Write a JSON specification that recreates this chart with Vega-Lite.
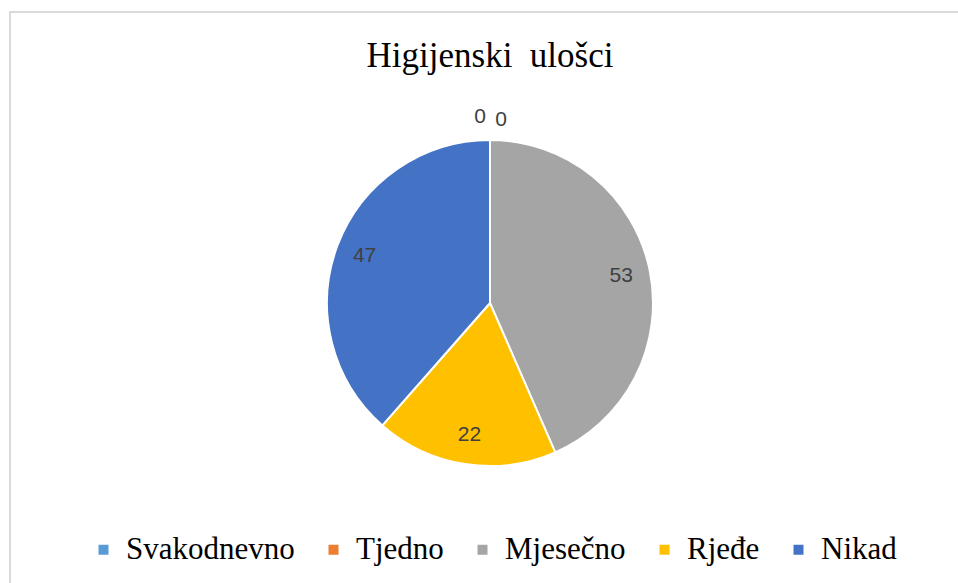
{
  "$schema": "https://vega.github.io/schema/vega-lite/v6.json",
  "width": 960,
  "height": 582,
  "autosize": "none",
  "padding": {"left": 10, "top": 12, "right": -12, "bottom": -11},
  "background": "white",
  "view": {"stroke": "#d9d9d9", "strokeWidth": 2, "fill": "white"},
  "title": {
    "text": "Higijenski\u00a0 ulošci",
    "font": "Liberation Serif",
    "fontSize": 35,
    "fontWeight": "normal",
    "color": "#000000",
    "anchor": "middle",
    "offset": -62
  },
  "data": {
    "values": [
      {"category": "Svakodnevno", "value": 0, "order": 1},
      {"category": "Tjedno", "value": 0, "order": 2},
      {"category": "Mjesečno", "value": 53, "order": 3},
      {"category": "Rjeđe", "value": 22, "order": 4},
      {"category": "Nikad", "value": 47, "order": 5}
    ]
  },
  "encoding": {
    "theta": {"field": "value", "type": "quantitative", "stack": true},
    "order": {"field": "order", "type": "quantitative"},
    "color": {
      "field": "category",
      "type": "nominal",
      "scale": {
        "domain": ["Svakodnevno", "Tjedno", "Mjesečno", "Rjeđe", "Nikad"],
        "range": ["#5B9BD5", "#ED7D31", "#A5A5A5", "#FFC000", "#4472C4"]
      },
      "sort": null,
      "legend": {
        "title": null,
        "orient": "none",
        "direction": "horizontal",
        "legendX": 78,
        "legendY": 522,
        "symbolType": "square",
        "symbolSize": 100,
        "symbolStrokeWidth": 0,
        "labelFont": "Liberation Serif",
        "labelFontSize": 31,
        "labelColor": "#000000",
        "labelOffset": 7,
        "columnPadding": 23,
        "padding": 0,
        "labelLimit": 400
      }
    }
  },
  "layer": [
    {
      "mark": {"type": "arc", "outerRadius": 163, "stroke": "white", "strokeWidth": 2}
    },
    {
      "transform": [{"filter": "datum.value > 0"}],
      "mark": {"type": "text", "radius": 134, "font": "Liberation Sans", "fontSize": 21, "fill": "#404040", "align": "center", "baseline": "middle"},
      "encoding": {
        "text": {"field": "value", "type": "quantitative"},
        "color": {"value": "#404040"}
      }
    },
    {
      "transform": [{"filter": "datum.category === 'Svakodnevno'"}],
      "mark": {"type": "text", "radius": 186, "dx": -10, "font": "Liberation Sans", "fontSize": 21, "fill": "#404040", "align": "center", "baseline": "middle"},
      "encoding": {
        "text": {"field": "value", "type": "quantitative"},
        "color": {"value": "#404040"}
      }
    },
    {
      "transform": [{"filter": "datum.category === 'Tjedno'"}],
      "mark": {"type": "text", "radius": 183, "dx": 11, "font": "Liberation Sans", "fontSize": 21, "fill": "#404040", "align": "center", "baseline": "middle"},
      "encoding": {
        "text": {"field": "value", "type": "quantitative"},
        "color": {"value": "#404040"}
      }
    }
  ]
}
